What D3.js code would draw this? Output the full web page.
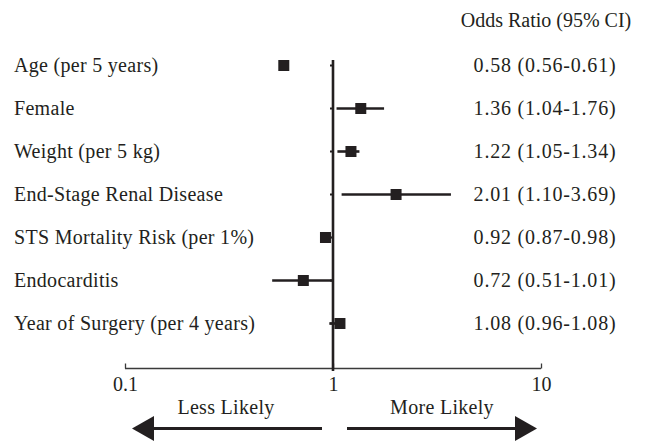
<!DOCTYPE html>
<html>
<head>
<meta charset="utf-8">
<script src="https://cdn.jsdelivr.net/npm/d3@7"></script>
<style>
  html, body { margin: 0; padding: 0; background: #fff; }
  svg { display: block; }
  text { font-family: "Liberation Serif", "DejaVu Serif", serif; fill: #231f20; }
</style>
</head>
<body>
<svg id="chart" width="651" height="441"></svg>
<script>
// Predictors and their odds ratios with 95% confidence limits
const predictors = [
  "Age (per 5 years)",
  "Female",
  "Weight (per 5 kg)",
  "End-Stage Renal Disease",
  "STS Mortality Risk (per 1%)",
  "Endocarditis",
  "Year of Surgery (per 4 years)"
];
const oddsRatio = [0.58, 1.36, 1.22, 2.01, 0.92, 0.72, 1.08];
const ciLower   = [0.56, 1.04, 1.05, 1.10, 0.87, 0.51, 0.96];
const ciUpper   = [0.61, 1.76, 1.34, 3.69, 0.98, 1.01, 1.08];
const tickValues = [0.1, 1, 10];
const tickLabels = ["0.1", "1", "10"];

const ink = "#231f20";
const fontSize = 20;
const svg = d3.select("#chart");

const x = d3.scaleLog().domain([0.1, 10]).range([125, 541]);
const y = d3.scaleBand().domain(predictors).range([44, 345]);
const rowY = d => y(d) + y.bandwidth() / 2;

const fmt = d3.format(".2f");

// Column header
svg.append("text")
  .attr("x", 546).attr("y", 27)
  .attr("text-anchor", "middle")
  .attr("font-size", fontSize)
  .text("Odds Ratio (95% CI)");

// Predictor labels
svg.append("g").selectAll("text")
  .data(predictors)
  .join("text")
  .attr("x", 14)
  .attr("y", d => rowY(d))
  .attr("dy", "0.33em")
  .attr("font-size", fontSize)
  .attr("letter-spacing", 0.3)
  .text(d => d);

// Odds ratio text column
svg.append("g").selectAll("text")
  .data(predictors)
  .join("text")
  .attr("x", 545)
  .attr("y", d => rowY(d))
  .attr("dy", "0.33em")
  .attr("text-anchor", "middle")
  .attr("font-size", fontSize)
  .attr("letter-spacing", 0.8)
  .text((d, i) => `${fmt(oddsRatio[i])} (${fmt(ciLower[i])}-${fmt(ciUpper[i])})`);

// Bottom log axis
const axis = svg.append("g")
  .attr("transform", "translate(0,368.5)")
  .call(d3.axisBottom(x).tickValues(tickValues).tickFormat((d, i) => tickLabels[i]).tickSize(0).tickPadding(8));
axis.select(".domain").remove();
axis.append("line")
  .attr("x1", x(0.1)).attr("x2", x(10))
  .attr("stroke", "#3a3a3a").attr("stroke-width", 1.3);
axis.selectAll(".tick line").remove();
axis.selectAll(".tick").append("line")
  .attr("y1", 0).attr("y2", -5)
  .attr("stroke", "#3a3a3a").attr("stroke-width", 1.3);
axis.selectAll(".tick text")
  .attr("font-family", "Liberation Serif, DejaVu Serif, serif")
  .attr("font-size", fontSize)
  .attr("fill", ink);

// Reference line at OR = 1
svg.append("line")
  .attr("x1", x(1)).attr("x2", x(1))
  .attr("y1", 60).attr("y2", 371)
  .attr("stroke", ink).attr("stroke-width", 2.6);

// Row ticks on the reference line
svg.append("g").selectAll("line")
  .data(predictors)
  .join("line")
  .attr("x1", x(1) - 3).attr("x2", x(1))
  .attr("y1", d => rowY(d)).attr("y2", d => rowY(d))
  .attr("stroke", ink).attr("stroke-width", 2);

// Confidence intervals
svg.append("g").selectAll("line")
  .data(predictors)
  .join("line")
  .attr("x1", (d, i) => x(ciLower[i]))
  .attr("x2", (d, i) => x(ciUpper[i]))
  .attr("y1", d => rowY(d)).attr("y2", d => rowY(d))
  .attr("stroke", ink).attr("stroke-width", 2.6);

// Point estimates
const sq = 11;
svg.append("g").selectAll("rect")
  .data(predictors)
  .join("rect")
  .attr("x", (d, i) => x(oddsRatio[i]) - sq / 2)
  .attr("y", d => rowY(d) - sq / 2)
  .attr("width", sq).attr("height", sq)
  .attr("fill", ink);

// Direction labels and arrows
svg.append("text")
  .attr("x", 226).attr("y", 414)
  .attr("text-anchor", "middle")
  .attr("font-size", fontSize)
  .attr("letter-spacing", 0.3)
  .text("Less Likely");
svg.append("text")
  .attr("x", 442).attr("y", 414)
  .attr("text-anchor", "middle")
  .attr("font-size", fontSize)
  .attr("letter-spacing", 0.3)
  .text("More Likely");

const arrowY = 428.5;
svg.append("line")
  .attr("x1", 150).attr("x2", 322)
  .attr("y1", arrowY).attr("y2", arrowY)
  .attr("stroke", ink).attr("stroke-width", 3);
svg.append("path")
  .attr("d", `M132,${arrowY} L154,${arrowY - 12.5} L154,${arrowY + 12.5} Z`)
  .attr("fill", ink);
svg.append("line")
  .attr("x1", 347).attr("x2", 518)
  .attr("y1", arrowY).attr("y2", arrowY)
  .attr("stroke", ink).attr("stroke-width", 3);
svg.append("path")
  .attr("d", `M537,${arrowY} L515,${arrowY - 12.5} L515,${arrowY + 12.5} Z`)
  .attr("fill", ink);
</script>
</body>
</html>
